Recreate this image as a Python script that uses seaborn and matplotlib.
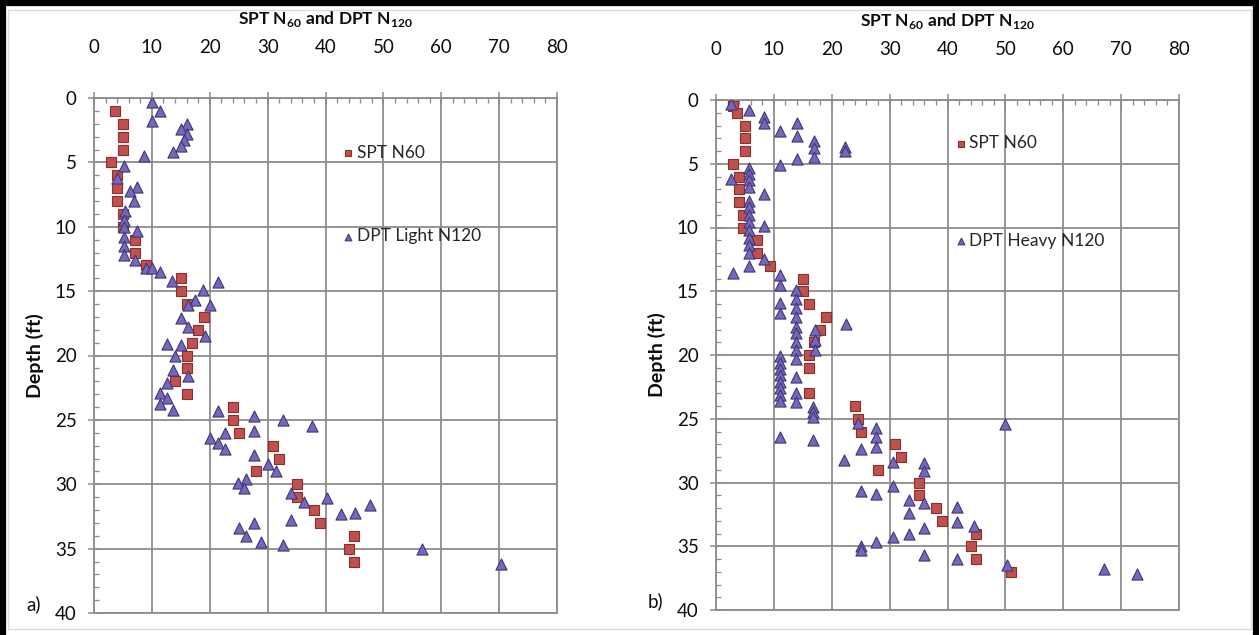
import numpy as np
import pandas as pd
import matplotlib
matplotlib.use("Agg")
import matplotlib.pyplot as plt
from matplotlib.ticker import MultipleLocator
from matplotlib.lines import Line2D
from matplotlib.patches import Rectangle
import seaborn as sns

# ---------------- data ----------------
# Panel a) SPT N60 (squares)
spt_a_depth = [1, 2, 3, 4, 5, 6, 7, 8, 9, 10, 11, 12, 13, 14, 15, 16, 17, 18, 19, 20,
               21, 22, 23, 24, 25, 26, 27, 28, 29, 30, 31, 32, 33, 34, 35, 36]
spt_a_n60 = [3.7, 5, 5, 5, 3, 4, 4, 4, 5, 5, 7, 7, 9, 15, 15, 16, 19, 18, 17, 16,
             16, 14, 16, 24, 24, 25, 31, 32, 28, 35, 35, 38, 39, 45, 44, 45]

# Panel a) DPT Light N120 (triangles)
dpt_a_depth = [0.3, 1, 1.8, 2, 2.4, 2.8, 3.3, 3.7, 4.2, 4.5, 5.3, 6.2, 6.9, 7.2, 8, 8.8,
               9.5, 10, 10.3, 10.8, 11.5, 12.2, 12.6, 13.2, 13.2, 13.5, 14.2, 14.3, 14.9,
               15.7, 16.1, 16.1, 17.1, 17.8, 18.5, 19.1, 19.2, 20, 21.1, 21.6, 22.1, 22.9,
               23.3, 23.8, 24.2, 24.3, 24.7, 25.0, 25.5, 25.9, 26.4, 26, 26.8, 27.3, 27.7,
               28.4, 29, 29.6, 29.9, 30.3, 30.7, 31.1, 31.4, 31.6, 32.2, 32.3, 32.8, 33,
               33.4, 34, 34.5, 34.7, 35, 36.2]
dpt_a_n120 = [10, 11.4, 10, 16, 15, 16, 15.5, 15, 13.7, 8.7, 5.1, 4, 7.4, 6.3, 6.9, 5.4,
              5.1, 5.1, 7.4, 5.1, 5.1, 5.1, 7.1, 8.9, 10, 11.4, 13.4, 21.4, 18.9,
              17.4, 20, 16.3, 15.1, 16.3, 19.1, 12.6, 15.1, 14, 13.7, 16.3, 12.6, 11.4,
              12.6, 11.4, 13.7, 21.4, 27.7, 32.6, 37.7, 27.7, 20, 22.6, 21.4, 22.6, 27.7,
              30, 31.4, 26.3, 24.9, 26, 34, 40.3, 36.3, 47.7, 45.1, 42.6, 34, 27.7,
              25.1, 26.3, 28.9, 32.7, 56.6, 70.3]

# Panel b) SPT N60 (squares)
spt_b_depth = [0.5, 1, 2, 3, 4, 5, 6, 7, 8, 9, 10, 11, 12, 13, 14, 15, 16, 17, 18, 19,
               20, 21, 23, 24, 25, 26, 27, 28, 29, 30, 31, 32, 33, 34, 35, 36, 37]
spt_b_n60 = [3, 3.7, 5, 5, 5, 3, 4, 4, 4, 4.6, 4.6, 7, 7, 9.4, 15, 15, 16, 19, 18, 17,
             16, 16, 16, 24, 24.5, 25, 31, 32, 28, 35, 35, 38, 39, 45, 44, 45, 51]

# Panel b) DPT Heavy N120 (triangles)
dpt_b_depth = [0.3, 0.8, 1.3, 1.8, 1.8, 2.4, 2.8, 3.2, 3.7, 4.0, 3.8, 4.5, 4.6, 5.1, 5.3,
               5.8, 6.3, 6.2, 6.8, 7.4, 7.9, 8.4, 9.0, 9.6, 9.9, 10.2, 10.8, 11.4, 12.0,
               12.5, 13, 13.6, 13.7, 14.5, 14.9, 15.6, 16.3, 17, 17.8, 18.3, 19, 19.6,
               20.3, 15.9, 16.7, 18, 18.8, 19.6, 17.6, 20.1, 20.6, 21.1, 21.6, 22.1, 22.6,
               23.1, 23.6, 21.7, 23, 23.7, 24.1, 24.5, 24.9, 26.4, 26.7, 25.3, 25.7, 26.4,
               27.2, 27.4, 28.2, 28.4, 28.5, 29.1, 25.4, 30.3, 30.7, 30.9, 31.4, 32.4,
               31.6, 31.9, 33.1, 33.4, 34.3, 34, 33.6, 34.7, 35, 35.3, 35.7, 36, 36.5,
               36.8, 37.2]
dpt_b_n120 = [2.6, 5.7, 8.3, 8.3, 14, 11.1, 14, 16.9, 22.3, 22.3, 16.9, 16.9, 14, 11.1, 5.7,
              5.7, 5.7, 2.6, 5.7, 8.3, 5.7, 5.7, 5.7, 5.7, 8.3, 5.7, 5.7, 5.7, 5.7,
              8.3, 5.7, 2.9, 11.1, 11, 13.9, 13.9, 13.9, 13.9, 13.9, 13.9, 13.9, 13.9,
              13.9, 11, 11, 17.1, 17.1, 17.1, 22.4, 11, 11, 11, 11, 11, 11,
              11, 11, 13.9, 13.9, 13.9, 16.8, 16.8, 16.8, 11, 16.8, 24.5, 27.7, 27.7,
              27.7, 25.1, 22.2, 30.6, 36, 36, 50, 30.6, 25, 27.7, 33.3, 33.3,
              35.9, 41.7, 41.7, 44.5, 30.5, 33.3, 35.9, 27.6, 25, 25, 35.9, 41.7, 50.2,
              67, 72.7]

x_ticks = list(range(0, 81, 10))
y_ticks = list(range(0, 41, 5))

# ---------------- style ----------------
sns.set_style("white")
plt.rcParams["font.family"] = ["Lato", "DejaVu Sans"]
plt.rcParams["mathtext.fontset"] = "custom"
plt.rcParams["mathtext.rm"] = "Lato"
plt.rcParams["mathtext.bf"] = "Lato:bold"

RED = "#C0504D"
RED_EDGE = "#8C2F2C"
PURPLE = "#7767BC"
PURPLE_EDGE = "#3E3875"
GRID = "#8C8C8C"
TEXT = "#0d0d0d"

fig = plt.figure(figsize=(12.59, 6.35), dpi=100)

ax_a = fig.add_axes([94 / 1259, 1 - 613 / 635, 463 / 1259, 515 / 635])
ax_b = fig.add_axes([716 / 1259, 1 - 610 / 635, 463 / 1259, 510 / 635])

panels = [
    (ax_a, spt_a_n60, spt_a_depth, dpt_a_n120, dpt_a_depth, "DPT Light N120", "a)",
     (0.515, 0.926), 3.9),
    (ax_b, spt_b_n60, spt_b_depth, dpt_b_n120, dpt_b_depth, "DPT Heavy N120", "b)",
     (0.495, 0.948), 4.7),
]

for ax, sv, sd, dv, dd, dlabel, tag, leg_anchor, leg_space in panels:
    spt_df = pd.DataFrame({"N": sv, "Depth": sd})
    dpt_df = pd.DataFrame({"N": dv, "Depth": dd})
    sns.scatterplot(data=spt_df, x="N", y="Depth", marker="s", s=54, color=RED,
                    edgecolor=RED_EDGE, linewidth=0.8, label="SPT N60", ax=ax, zorder=3)
    sns.scatterplot(data=dpt_df, x="N", y="Depth", marker="^", s=64, color=PURPLE,
                    edgecolor=PURPLE_EDGE, linewidth=0.8, label=dlabel, ax=ax, zorder=4)

    ax.set_xlim(0, 80)
    ax.set_ylim(40, 0)
    ax.xaxis.tick_top()
    ax.xaxis.set_label_position("top")
    ax.set_xticks(x_ticks)
    ax.set_yticks(y_ticks)
    ax.xaxis.set_minor_locator(MultipleLocator(2))
    ax.yaxis.set_minor_locator(MultipleLocator(1))
    ax.grid(True, which="major", color=GRID, linewidth=1.3)
    ax.set_axisbelow(True)

    ax.tick_params(axis="x", which="major", direction="inout", length=8, width=1.1,
                   color=GRID, top=True, bottom=False, labeltop=True, labelbottom=False,
                   labelsize=13.5, pad=26, labelcolor=TEXT)
    ax.tick_params(axis="x", which="minor", direction="in", length=3.5, width=0.9,
                   color=GRID, top=True, bottom=False)
    ax.tick_params(axis="y", which="major", direction="inout", length=8, width=1.1,
                   color=GRID, left=True, labelsize=13.5, pad=8.5, labelcolor=TEXT)
    ax.tick_params(axis="y", which="minor", direction="in", length=3.5, width=0.9,
                   color=GRID, left=True)
    for sp in ax.spines.values():
        sp.set_color(GRID)
        sp.set_linewidth(1.3)

    ax.set_xlabel(r"SPT N$_{\mathbf{60}}$ and DPT N$_{\mathbf{120}}$", fontsize=12.5,
                  fontweight="bold", labelpad=11, color=TEXT)
    ax.set_ylabel("Depth (ft)", fontsize=14, fontweight="bold", labelpad=8, color=TEXT)

    ax.legend(loc="upper left", bbox_to_anchor=leg_anchor, frameon=False,
              fontsize=12.5, labelspacing=leg_space, handletextpad=0.1,
              handlelength=0.8, borderpad=0, markerscale=0.6)

    # panel tag at lower left, beside the last depth label
    bbox = ax.get_position()
    fig.text(bbox.x0 - 68 / 1259, bbox.y0 + 9 / 635, tag, fontsize=13.5,
             ha="left", va="center", color=TEXT)

# outer frame: heavy black on left, top and right, faint inner rule
fig.add_artist(Line2D([0.002, 0.002], [0, 1], transform=fig.transFigure,
                      color="black", linewidth=4.5))
fig.add_artist(Line2D([0, 1], [0.996, 0.996], transform=fig.transFigure,
                      color="black", linewidth=4.5))
fig.add_artist(Line2D([0.998, 0.998], [0, 1], transform=fig.transFigure,
                      color="black", linewidth=4.5))
fig.add_artist(Rectangle((8 / 1259, 6 / 635), 1 - 16 / 1259, 1 - 16 / 635,
                         transform=fig.transFigure, fill=False,
                         edgecolor="#dcdcdc", linewidth=1.0))

fig.savefig("out.png", dpi=100)
